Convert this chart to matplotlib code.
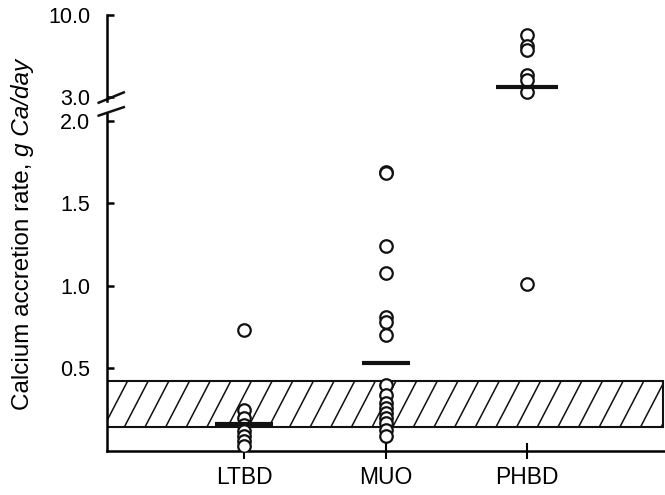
import numpy as np
import matplotlib
matplotlib.use("Agg")
import matplotlib.pyplot as plt
from matplotlib.patches import Rectangle

plt.rcParams['font.family'] = ['Liberation Sans', 'DejaVu Sans']

# data
groups = ['LTBD', 'MUO', 'PHBD']
ltbd = [0.73, 0.25, 0.20, 0.16, 0.12, 0.09, 0.06, 0.03]
muo = [1.69, 1.68, 1.24, 1.08, 0.81, 0.78, 0.70, 0.40, 0.34, 0.29,
       0.26, 0.23, 0.20, 0.17, 0.13, 0.09]
phbd = [8.29, 7.35, 7.01, 4.88, 4.45, 3.42, 1.01]
means = [0.165, 0.53, 3.85]
band_low, band_high = 0.145, 0.425

all_vals = [ltbd, muo, phbd]

fig = plt.figure(figsize=(6.65, 4.95), dpi=100)
ax = fig.add_axes([0.161, 0.0889, 0.839, 0.681])      # lower part 0-2
ax_up = fig.add_axes([0.161, 0.796, 0.839, 0.1737])    # upper part 3-10

xlim = (0.03, 3.975)
for a in (ax, ax_up):
    a.set_xlim(*xlim)
    a.spines['top'].set_visible(False)
    a.spines['right'].set_visible(False)
    a.spines['left'].set_linewidth(1.8)
    a.tick_params(axis='y', direction='in', length=5, width=1.8, pad=12, labelsize=15.5)
ax_up.spines['bottom'].set_visible(False)
ax_up.set_xticks([])
ax.spines['bottom'].set_linewidth(1.8)

ax.set_ylim(0, 2.04)
ax.set_yticks([0.5, 1.0, 1.5, 2.0])
ax.set_yticklabels(['0.5', '1.0', '1.5', '2.0'])
ax_up.set_ylim(2.7, 10.0)
ax_up.set_yticks([3.0, 10.0])
ax_up.set_yticklabels(['3.0', '10.0'])

pos = np.arange(1, len(groups) + 1)
ax.set_xticks(pos)
ax.set_xticklabels(groups)
ax.tick_params(axis='x', direction='inout', length=12, width=1.5, pad=5, labelsize=16.5)

# hatched reference band
x0, x1 = xlim[0], 3.96
rect = Rectangle((x0, band_low), x1 - x0, band_high - band_low,
                 facecolor='white', edgecolor='#111111', lw=1.5, zorder=1)
ax.add_patch(rect)
dx = 0.17
for xs in np.arange(x0 - dx, x1, 0.146):
    ln, = ax.plot([xs, xs + dx], [band_low, band_high], color='#111111', lw=1.1, zorder=1.5)
    ln.set_clip_path(rect)

# points
for p, vals in zip(pos, all_vals):
    vals = np.array(vals)
    lo = vals[vals <= 2.04]
    hi = vals[vals > 2.04]
    ax.plot(np.full(len(lo), p), lo, 'o', mfc='white', mec='#111111', ms=9, mew=1.6, zorder=3)
    ax_up.plot(np.full(len(hi), p), hi, 'o', mfc='white', mec='#111111', ms=9, mew=1.6,
               zorder=3, clip_on=False)

# mean lines
half = [0.205, 0.17, 0.22]
for p, m, h in zip(pos, means, half):
    target = ax if m <= 2.04 else ax_up
    target.plot([p - h, p + h], [m, m], color='#111111', lw=3, solid_capstyle='butt', zorder=4)

# axis break marks
ax_up.plot([-0.015, 0.03], [-0.02, 0.1], transform=ax_up.transAxes, color='#111111',
           lw=1.8, clip_on=False)
ax.plot([-0.015, 0.03], [0.995, 1.02], transform=ax.transAxes, color='#111111',
        lw=1.8, clip_on=False)

# y label: plain part + italic units
t1 = fig.text(0.034, 0.172, 'Calcium accretion rate, ', rotation=90,
              ha='center', va='bottom', fontsize=17.5)
ax.annotate('g Ca/day', xy=(0.5, 1.0), xycoords=t1, rotation=90,
            ha='center', va='bottom', fontsize=17.5, style='italic',
            annotation_clip=False)

fig.savefig('out.png', dpi=100)
